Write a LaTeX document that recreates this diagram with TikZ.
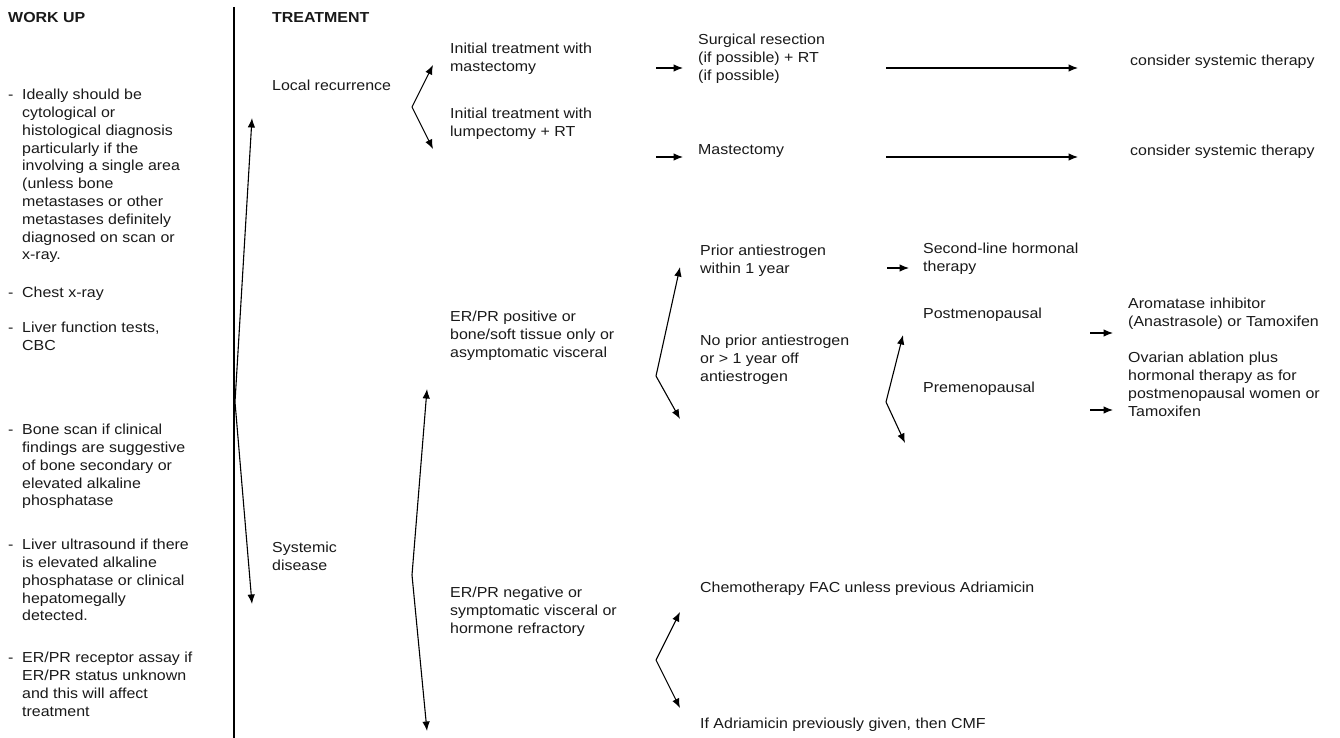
\documentclass[tikz,border=0pt]{standalone}
\usepackage{fontspec}
\setmainfont{Liberation Sans}[FakeStretch=1.1]
\usetikzlibrary{arrows.meta}
\newcommand\fs{\fontsize{14.5pt}{17.8pt}\selectfont}
\newcommand\bul{\makebox[14pt][l]{-}}
\begin{document}
\begin{tikzpicture}[x=1pt,y=-1pt,
  txt/.style={anchor=north west, inner sep=0pt, align=left, font=\fs, yshift=8pt, text=black!90},
  hdr/.style={txt, font=\fs\bfseries},
  arr/.style={line width=1.1pt, -{Latex[length=9.5pt,width=7.5pt]}},
  sepline/.style={line width=1.4pt}]
\useasboundingbox (0,0) rectangle (1340,738);

% headers
\node[hdr] (wu) at (8,18) {\strut WORK UP};
\node[hdr] (tr) at (272,18) {\strut TREATMENT};
\coordinate (sepT) at (234,7);
\coordinate (sepB) at (234,738);
\draw[sepline] (sepT) -- (sepB);

% work up column
\node[txt] (b1) at (8,95) {\begin{tabular}{@{}l@{}l@{}}\bul & Ideally should be\\ & cytological or\\ & histological diagnosis\\ & particularly if the\\ & involving a single area\\ & (unless bone\\ & metastases or other\\ & metastases definitely\\ & diagnosed on scan or\\ & x-ray.\end{tabular}};
\node[txt] (b2) at (8,293) {\begin{tabular}{@{}l@{}l@{}}\bul & Chest x-ray\end{tabular}};
\node[txt] (b3) at (8,328) {\begin{tabular}{@{}l@{}l@{}}\bul & Liver function tests,\\ & CBC\end{tabular}};
\node[txt] (b4) at (8,430) {\begin{tabular}{@{}l@{}l@{}}\bul & Bone scan if clinical\\ & findings are suggestive\\ & of bone secondary or\\ & elevated alkaline\\ & phosphatase\end{tabular}};
\node[txt] (b5) at (8,545) {\begin{tabular}{@{}l@{}l@{}}\bul & Liver ultrasound if there\\ & is elevated alkaline\\ & phosphatase or clinical\\ & hepatomegally\\ & detected.\end{tabular}};
\node[txt] (b6) at (8,658) {\begin{tabular}{@{}l@{}l@{}}\bul & ER/PR receptor assay if\\ & ER/PR status unknown\\ & and this will affect\\ & treatment\end{tabular}};

% treatment
\node[txt] (lr) at (272,86) {\strut Local recurrence};
\node[txt] (sd) at (272,548) {\strut Systemic\\disease};

\node[txt] (im) at (450,49) {\strut Initial treatment with\\mastectomy};
\node[txt] (il) at (450,114) {\strut Initial treatment with\\lumpectomy + RT};
\node[txt] (sr) at (698,40) {\strut Surgical resection\\(if possible) + RT\\(if possible)};
\node[txt] (ma) at (698,150) {\strut Mastectomy};
\node[txt] (cs1) at (1130,61) {\strut consider systemic therapy};
\node[txt] (cs2) at (1130,151) {\strut consider systemic therapy};

\node[txt] (erp) at (450,317) {\strut ER/PR positive or\\bone/soft tissue only or\\asymptomatic visceral};
\node[txt] (pa) at (700,251) {\strut Prior antiestrogen\\within 1 year};
\node[txt] (np) at (700,341) {\strut No prior antiestrogen\\or > 1 year off\\antiestrogen};
\node[txt] (sl) at (923,249) {\strut Second-line hormonal\\therapy};
\node[txt] (post) at (923,314) {\strut Postmenopausal};
\node[txt] (pre) at (923,388) {\strut Premenopausal};
\node[txt] (ai) at (1128,304) {\strut Aromatase inhibitor\\(Anastrasole) or Tamoxifen};
\node[txt] (oa) at (1128,358) {\strut Ovarian ablation plus\\hormonal therapy as for\\postmenopausal women or\\Tamoxifen};

\node[txt] (ern) at (450,593) {\strut ER/PR negative or\\symptomatic visceral or\\hormone refractory};
\node[txt] (ch) at (700,588) {\strut Chemotherapy FAC unless previous Adriamicin};
\node[txt] (ad) at (700,724) {\strut If Adriamicin previously given, then CMF};

% branch: work-up split
\coordinate (sA) at (235,402);
\coordinate (sU) at (252,118);
\coordinate (sD) at (252,604);
\draw[arr] (sA) -- (sU);
\draw[arr] (sA) -- (sD);

% local recurrence split
\coordinate (lA) at (412,107);
\coordinate (lU) at (433,65);
\coordinate (lD) at (433,149);
\draw[arr] (lA) -- (lU);
\draw[arr] (lA) -- (lD);

% short and long arrows (local)
\coordinate (m1s) at (656,68);  \coordinate (m1e) at (683,68);
\coordinate (m2s) at (656,157); \coordinate (m2e) at (683,157);
\draw[arr] (m1s) -- (m1e);
\draw[arr] (m2s) -- (m2e);
\coordinate (g1s) at (886,68);  \coordinate (g1e) at (1078,68);
\coordinate (g2s) at (886,157); \coordinate (g2e) at (1078,157);
\draw[arr] (g1s) -- (g1e);
\draw[arr] (g2s) -- (g2e);

% systemic split
\coordinate (eA) at (412,575);
\coordinate (eU) at (427,389);
\coordinate (eD) at (427,731);
\draw[arr] (eA) -- (eU);
\draw[arr] (eA) -- (eD);

% antiestrogen split
\coordinate (aA) at (656,376);
\coordinate (aU) at (680,267);
\coordinate (aD) at (680,419);
\draw[arr] (aA) -- (aU);
\draw[arr] (aA) -- (aD);
\coordinate (s2s) at (887,268); \coordinate (s2e) at (909,268);
\draw[arr] (s2s) -- (s2e);

% menopausal split
\coordinate (pA) at (886,402);
\coordinate (pU) at (903,335);
\coordinate (pD) at (905,443);
\draw[arr] (pA) -- (pU);
\draw[arr] (pA) -- (pD);
\coordinate (r1s) at (1090,333); \coordinate (r1e) at (1113,333);
\coordinate (r2s) at (1090,410); \coordinate (r2e) at (1113,410);
\draw[arr] (r1s) -- (r1e);
\draw[arr] (r2s) -- (r2e);

% chemotherapy split
\coordinate (cA) at (656,660);
\coordinate (cU) at (680,612);
\coordinate (cD) at (680,708);
\draw[arr] (cA) -- (cU);
\draw[arr] (cA) -- (cD);
\end{tikzpicture}
\end{document}
